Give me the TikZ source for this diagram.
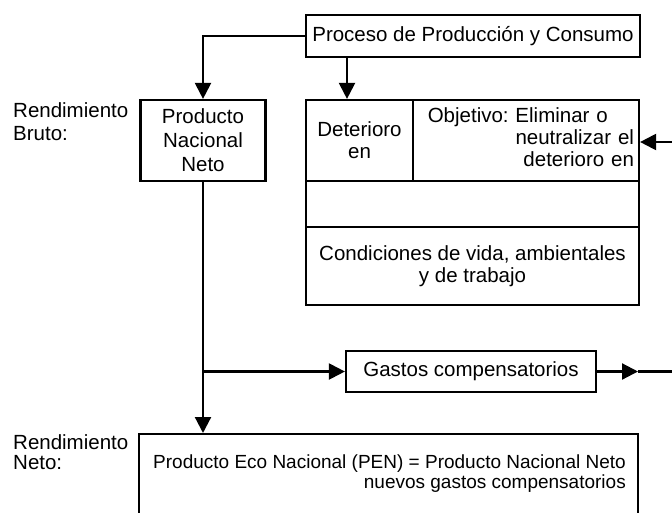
\documentclass[tikz,border=0pt]{standalone}
\usepackage{fontspec}
\setmainfont{Liberation Sans}
\usetikzlibrary{positioning, calc, arrows.meta}

\begin{document}
\begin{tikzpicture}[x=1pt, y=-1pt,
    box/.style={draw, line width=2.2pt, inner sep=0pt, align=center, font=\fontsize{20.5}{22}\selectfont},
    arr/.style={line width=2.2pt, -{Triangle[length=16pt, width=16pt]}},
    lbl/.style={inner sep=0pt, anchor=west, align=left}]
    \useasboundingbox (0,0) rectangle (672,512);

    % Top process
    \node[box, minimum width=334pt, minimum height=42pt] (proceso) at (473,36) {Proceso de Producción y Consumo};

    % Gross output
    \node[lbl, font=\fontsize{20.5}{23}\selectfont] (rbruto) at (13,121.5) {Rendimiento\\Bruto:};
    \node[box, minimum width=125pt, minimum height=81pt, font=\fontsize{20.5}{24}\selectfont] (pnn) at (203,140.5) {Producto\\Nacional\\Neto};

    % Deterioration block
    \node[box, minimum width=107pt, minimum height=81pt] (deterioro) at (359.5,140.5) {Deterioro\\en};
    \node[box, minimum width=226pt, minimum height=81pt, text width=216pt, align=right] (objetivo) at (526,140.5)
        {\begin{tabular}{@{}l@{\ }r@{}}Objetivo: & Eliminar o\hfill\null\\ & neutralizar el\\ & deterioro en\end{tabular}};
    \node[box, minimum width=333pt, minimum height=46pt] (vacio) at (472.5,204) {};
    \node[box, minimum width=333pt, minimum height=78pt] (condiciones) at (472.5,266) {Condiciones de vida, ambientales\\y de trabajo};

    % Compensatory spending
    \node[box, minimum width=250pt, minimum height=41pt] (gastos) at (471,371.5) {Gastos compensatorios};

    % Net output
    \node[lbl, font=\fontsize{20.5}{20}\selectfont] (rneto) at (13,452) {Rendimiento\\Neto:};
    \node[box, minimum width=499pt, minimum height=100pt, anchor=north west] (pen) at (138,433) {};
    \node[inner sep=0pt, anchor=north east, align=right, font=\fontsize{19}{20}\selectfont] (pentxt) at (626,455)
        {Producto Eco Nacional (PEN) = Producto Nacional Neto\\nuevos gastos compensatorios};

    % Arrows
    \draw[arr] (proceso.west) -| (pnn.north);
    \draw[arr] ([xshift=-126pt]proceso.south) -- ([xshift=-12.5pt]deterioro.north);
    \draw[arr] (pnn.south) -- (pnn.south |- pen.north);
    \draw[arr] (pnn.south |- gastos.west) -- (gastos.west);

    \coordinate (gout) at (638,371.5);
    \coordinate (gfin) at (672,371.5);
    \draw[arr] (gastos.east) -- (gout);
    \draw[line width=2.2pt] (gout) -- (gfin);

    \coordinate (entrada) at (672,142);
    \draw[arr] (entrada) -- (entrada -| objetivo.east);
\end{tikzpicture}
\end{document}
